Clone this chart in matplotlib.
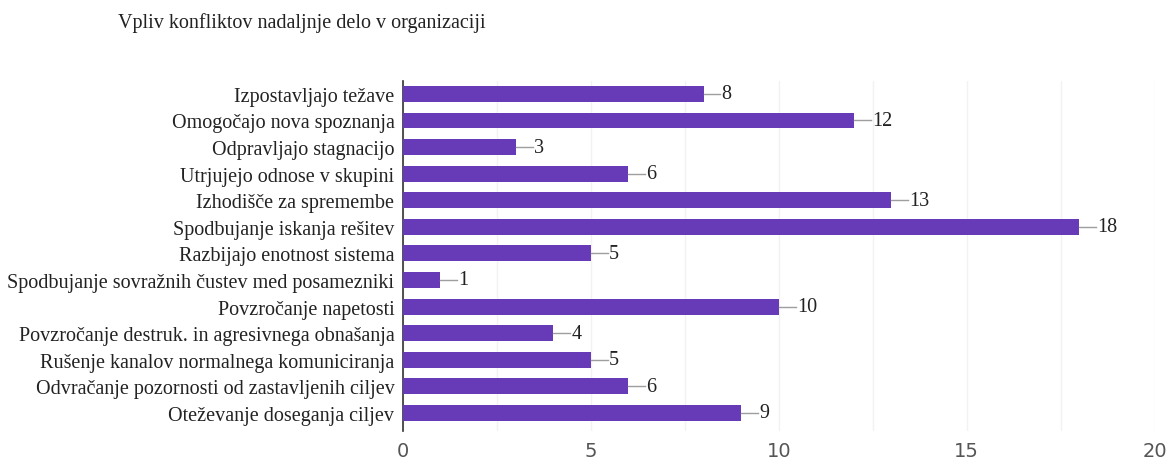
import numpy as np
import matplotlib.pyplot as plt

categories = [
    'Izpostavljajo težave',
    'Omogočajo nova spoznanja',
    'Odpravljajo stagnacijo',
    'Utrjujejo odnose v skupini',
    'Izhodišče za spremembe',
    'Spodbujanje iskanja rešitev',
    'Razbijajo enotnost sistema',
    'Spodbujanje sovražnih čustev med posamezniki',
    'Povzročanje napetosti',
    'Povzročanje destruk. in agresivnega obnašanja',
    'Rušenje kanalov normalnega komuniciranja',
    'Odvračanje pozornosti od zastavljenih ciljev',
    'Oteževanje doseganja ciljev',
]
values = [8, 12, 3, 6, 13, 18, 5, 1, 10, 4, 5, 6, 9]
title = 'Vpliv konfliktov nadaljnje delo v organizaciji'

fig = plt.figure(figsize=(11.71, 4.6), dpi=100)
ax = fig.add_axes([0.344, 0.061, 0.642, 0.761])

y = np.arange(len(categories))
ax.barh(y, values, height=0.6, color='#673ab7', zorder=3)

# value labels with small leader line
for yi, v in zip(y, values):
    ax.plot([v, v + 0.45], [yi, yi], color='#9e9e9e', lw=1, zorder=3)
    ax.text(v + 0.48, yi, str(v), va='center', ha='left',
            family='Liberation Serif', fontsize=14.5, color='#222222')

ax.set_xlim(0, 20)
ax.set_ylim(12.68, -0.49)
ax.set_yticks(y)
ax.set_yticklabels(categories, family='Liberation Serif', fontsize=14.5, color='#222222')
ax.set_xticks([0, 5, 10, 15, 20])
ax.set_xticks(np.arange(0, 20.1, 2.5), minor=True)
ax.tick_params(axis='x', labelsize=14, labelcolor='#555555', length=0, pad=7, which='both')
ax.tick_params(axis='y', length=0, pad=6)
for lab in ax.get_xticklabels():
    lab.set_family('DejaVu Sans')
ax.grid(axis='x', which='both', color='#f2f2f2', lw=1, zorder=0)
for s in ['top', 'right', 'bottom']:
    ax.spines[s].set_visible(False)
ax.spines['left'].set_color('#333333')
ax.spines['left'].set_linewidth(1.2)

fig.text(0.101, 0.950, title, family='Liberation Serif', fontsize=14.5,
         color='#222222', va='center', ha='left')

fig.savefig('out.png', dpi=100)
